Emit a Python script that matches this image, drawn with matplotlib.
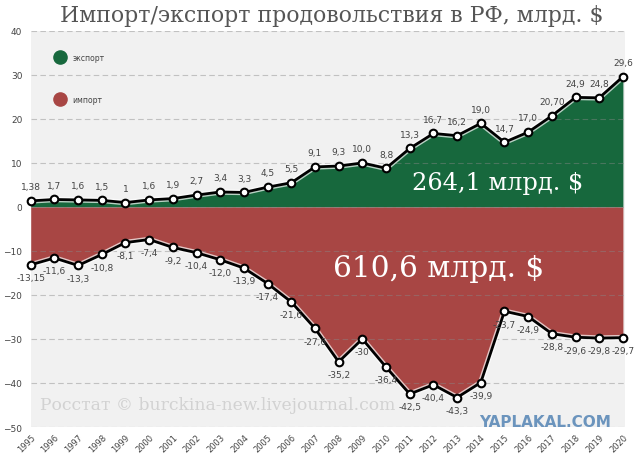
import numpy as np
import matplotlib.pyplot as plt

# food import/export of Russia, bn $
years = list(range(1995, 2021))
export = [1.38, 1.7, 1.6, 1.5, 1.0, 1.6, 1.9, 2.7, 3.4, 3.3, 4.5, 5.5, 9.1, 9.3,
          10.0, 8.8, 13.3, 16.7, 16.2, 19.0, 14.7, 17.0, 20.7, 24.9, 24.8, 29.6]
export_labels = ['1,38', '1,7', '1,6', '1,5', '1', '1,6', '1,9', '2,7', '3,4', '3,3',
                 '4,5', '5,5', '9,1', '9,3', '10,0', '8,8', '13,3', '16,7', '16,2',
                 '19,0', '14,7', '17,0', '20,70', '24,9', '24,8', '29,6']
imports = [-13.15, -11.6, -13.3, -10.8, -8.1, -7.4, -9.2, -10.4, -12.0, -13.9,
           -17.4, -21.6, -27.6, -35.2, -30.0, -36.4, -42.5, -40.4, -43.3, -39.9,
           -23.7, -24.9, -28.8, -29.6, -29.8, -29.7]
import_labels = ['-13,15', '-11,6', '-13,3', '-10,8', '-8,1', '-7,4', '-9,2', '-10,4',
                 '-12,0', '-13,9', '-17,4', '-21,6', '-27,6', '-35,2', '-30', '-36,4',
                 '-42,5', '-40,4', '-43,3', '-39,9', '-23,7', '-24,9', '-28,8',
                 '-29,6', '-29,8', '-29,7']
yticks = [40, 30, 20, 10, 0, -10, -20, -30, -40, -50]

green = '#17683d'
red = '#a84644'
serif = 'DejaVu Serif'

fig = plt.figure(figsize=(6.4, 4.56), dpi=100)
ax = fig.add_axes([0.048, 0.0614, 0.929, 0.8686])
ax.set_facecolor('#f1f1f1')

ax.fill_between(years, 0, export, color=green, lw=0, zorder=1)
ax.fill_between(years, 0, imports, color=red, lw=0, zorder=1)

for y in yticks:
    ax.axhline(y, color='#888888', lw=0.8, ls=(0, (5, 3)), alpha=0.45, zorder=2)

for vals in (export, imports):
    ax.plot(years, vals, color='white', lw=4, zorder=3, clip_on=False, alpha=0.7)
    ax.plot(years, vals, color='black', lw=2, marker='o', markersize=5.5,
            markerfacecolor='white', markeredgecolor='black', markeredgewidth=1.5,
            zorder=4, clip_on=False)

for x, v, s in zip(years, export, export_labels):
    ax.annotate(s, (x, v), xytext=(0, 7), textcoords='offset points',
                ha='center', va='bottom', fontsize=6.5, color='#444444', zorder=5)
for x, v, s in zip(years, imports, import_labels):
    ax.annotate(s, (x, v), xytext=(0, -6), textcoords='offset points',
                ha='center', va='top', fontsize=6.5, color='#444444', zorder=5)

ax.set_xlim(1995, 2020.1)
ax.set_ylim(-50, 40)
ax.set_yticks(yticks)
ax.set_xticks(years)
ax.set_xticklabels([str(y) for y in years], rotation=45, ha='right',
                   rotation_mode='anchor', fontsize=6, color='#444444')
ax.tick_params(axis='y', length=0, pad=6, labelsize=6.5, labelcolor='#444444')
ax.tick_params(axis='x', length=0, pad=4)
for s in ax.spines.values():
    s.set_visible(False)

# legend
ax.scatter([0.049], [0.934], s=90, color=green, transform=ax.transAxes, clip_on=False)
ax.text(0.07, 0.934, 'экспорт', transform=ax.transAxes, fontsize=5.5,
        color='#444444', va='center')
ax.scatter([0.049], [0.828], s=90, color=red, transform=ax.transAxes, clip_on=False)
ax.text(0.07, 0.828, 'импорт', transform=ax.transAxes, fontsize=5.5,
        color='#444444', va='center')

ax.text(2014.7, 5.5, '264,1 млрд. $', fontsize=17.3, family=serif, color='white',
        ha='center', va='center', zorder=6)
ax.text(2012.2, -13.9, '610,6 млрд. $', fontsize=21.3, family=serif, color='white',
        ha='center', va='center', zorder=6)

ax.text(1995.4, -44.8, 'Росстат © burckina-new.livejournal.com', fontsize=12.3,
        family=serif, color='#d2d2d2', va='center', zorder=2)
ax.text(2016.7, -48.7, 'YAPLAKAL.COM', fontsize=11, fontweight='bold',
        color='#6b94bd', ha='center', va='center', zorder=6)

fig.text(0.519, 0.965, 'Импорт/экспорт продовольствия в РФ, млрд. $', fontsize=15.8,
         family=serif, color='#555555', ha='center', va='center')

fig.savefig('out.png', dpi=100)
